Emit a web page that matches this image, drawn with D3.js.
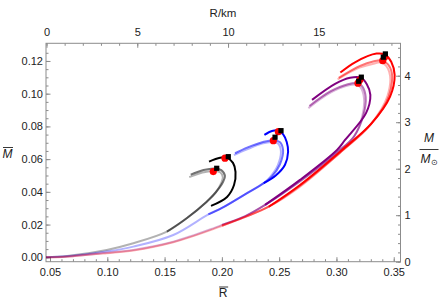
<!DOCTYPE html>
<html>
<head>
<meta charset="utf-8">
<script src="https://cdn.jsdelivr.net/npm/d3@7"></script>
<style>
  body { margin: 0; background: #fff; }
  text { font-family: "Liberation Sans", Arial, sans-serif; fill: #222; }
</style>
</head>
<body>
<script>
// Size of the picture and of the framed plot area
var w = 444, h = 303;
var frameL = 46, frameR = 400.5, frameT = 43.3, frameB = 261.7;

// Tick labels of the four frame sides
var rTicks = [0.05, 0.10, 0.15, 0.20, 0.25, 0.30, 0.35];
var mTicks = [0.00, 0.02, 0.04, 0.06, 0.08, 0.10, 0.12];
var kmTicks = [0, 5, 10, 15];
var solarTicks = [0, 1, 2, 3, 4];

// Mass-radius curves, [R bar, M bar] pairs
// each colour: a light curve from the origin, a mid one, and a dark outer one
var grayLight = [[0.0465,0],[0.065,0.0008],[0.0995,0.0045],[0.1227,0.0086],[0.152,0.0157],[0.1693,0.0239],[0.1868,0.034],[0.1945,0.0395],[0.1995,0.0455],[0.2008,0.049],[0.1985,0.052],[0.192,0.0528],[0.183,0.0518],[0.1715,0.049]];
var grayMid = [[0.152,0.0157],[0.1693,0.0239],[0.1868,0.034],[0.1949,0.0399],[0.201,0.046],[0.2027,0.0497],[0.1995,0.0533],[0.1935,0.0543],[0.184,0.0533],[0.1728,0.0505]];
var blackDark = [[0.1905,0.0314],[0.2045,0.0369],[0.2106,0.0442],[0.2119,0.0522],[0.2097,0.0577],[0.2045,0.0608],[0.1984,0.0609],[0.1888,0.0585]];

var blueLight = [[0.0465,0],[0.065,0.0006],[0.0995,0.0035],[0.1227,0.0065],[0.1576,0.0136],[0.1882,0.0262],[0.2001,0.0302],[0.2202,0.0385],[0.2365,0.0453],[0.242,0.049],[0.2488,0.0562],[0.2515,0.065],[0.249,0.0695],[0.2435,0.0705],[0.235,0.0695],[0.222,0.066],[0.2105,0.0625]];
var blueMid = [[0.1882,0.0262],[0.2001,0.0302],[0.2202,0.0385],[0.2365,0.0453],[0.2438,0.0495],[0.2507,0.0568],[0.2534,0.0656],[0.2505,0.0705],[0.2449,0.0716],[0.236,0.0705],[0.2225,0.0672],[0.2115,0.0636]];
var blueDark = [[0.2365,0.0453],[0.247,0.05],[0.2551,0.0566],[0.2578,0.0645],[0.2566,0.0705],[0.2535,0.0752],[0.2495,0.0774],[0.2438,0.0772],[0.2371,0.0748]];

var purpleLight = [[0.0465,0],[0.065,0.0005],[0.0995,0.0028],[0.1227,0.0045],[0.1576,0.0095],[0.1925,0.0177],[0.2001,0.0198],[0.2205,0.0252],[0.2377,0.032],[0.268,0.0462],[0.3015,0.0645],[0.315,0.0735],[0.3225,0.0862],[0.324,0.0975],[0.321,0.1038],[0.3175,0.1055],[0.309,0.1048],[0.294,0.1003],[0.2755,0.0912]];
var purpleMid = [[0.2001,0.0198],[0.2205,0.0252],[0.2377,0.032],[0.268,0.0465],[0.302,0.065],[0.3155,0.074],[0.3235,0.0868],[0.3255,0.098],[0.3225,0.1045],[0.3188,0.1064],[0.31,0.1058],[0.295,0.1015],[0.2764,0.0925]];
var purpleDark = [[0.2377,0.032],[0.2682,0.0473],[0.3005,0.0656],[0.3075,0.0717],[0.3258,0.0881],[0.3296,0.0993],[0.3265,0.1058],[0.3215,0.1097],[0.3119,0.1097],[0.2988,0.106],[0.2787,0.0962]];

var redLight = [[0.0465,0],[0.065,0.0004],[0.0995,0.0025],[0.1227,0.0042],[0.1576,0.0092],[0.1925,0.0172],[0.2001,0.0193],[0.2205,0.0247],[0.2409,0.0309],[0.268,0.043],[0.3031,0.0638],[0.329,0.0805],[0.3445,0.0985],[0.346,0.1135],[0.3395,0.119],[0.3315,0.1182],[0.3195,0.1158],[0.301,0.1088]];
var redMid = [[0.2001,0.0193],[0.2205,0.0247],[0.2409,0.0309],[0.268,0.0436],[0.304,0.0645],[0.33,0.0812],[0.3458,0.0985],[0.3478,0.1142],[0.3404,0.1202],[0.332,0.1197],[0.3206,0.117],[0.302,0.1097]];
var redDark = [[0.2409,0.0309],[0.2682,0.0442],[0.3049,0.0656],[0.3308,0.082],[0.3468,0.0982],[0.3508,0.1115],[0.3478,0.1195],[0.3427,0.1238],[0.335,0.1245],[0.3162,0.1192],[0.3034,0.1129]];

// maximum-mass markers
var maxCircles = [[0.1925,0.0524],[0.2027,0.0606],[0.2449,0.0713],[0.2493,0.0768],[0.3188,0.1064],[0.3205,0.1085],[0.3404,0.1202],[0.342,0.1225]];
var maxSquares = [[0.1955,0.0544],[0.2056,0.0615],[0.2464,0.0734],[0.2516,0.0774],[0.3194,0.1076],[0.3217,0.1101],[0.3409,0.1223],[0.3427,0.1243]];

// Scales: bottom R bar, left M bar, top R in km, right M in solar masses
var x = d3.scaleLinear().domain([0.0465, 0.3559]).range([frameL, frameR]);
var y = d3.scaleLinear().domain([-0.0027, 0.1308]).range([frameB, frameT]);
var xKm = d3.scaleLinear().domain([0, 19.5]).range([46.5, frameR]);
var ySun = d3.scaleLinear().domain([0, 4.697]).range([frameB, frameT]);

var svg = d3.select("body").append("svg")
    .attr("width", w)
    .attr("height", h);

// frame ticks, all pointing into the plot
var frameColor = "#8c8c8c";
function side(axis, tx, ty, major, minor, fmt, pad) {
  svg.append("g")
     .attr("transform", "translate(" + tx + "," + ty + ")")
     .call(axis.tickValues(minor).tickSize(-2.5).tickFormat(""));
  svg.append("g")
     .attr("transform", "translate(" + tx + "," + ty + ")")
     .call(axis.tickValues(major).tickSize(-4.5).tickPadding(pad).tickFormat(fmt));
}
side(d3.axisBottom(x), 0, frameB, rTicks, d3.range(0.05, 0.356, 0.01), d3.format(".2f"), 7);
side(d3.axisLeft(y), frameL, 0, mTicks, d3.range(0, 0.13, 0.005), d3.format(".2f"), 3);
side(d3.axisTop(xKm), 0, frameT, kmTicks, d3.range(0, 19.5, 1), d3.format("d"), 7);
side(d3.axisRight(ySun), frameR, 0, solarTicks, d3.range(0, 4.61, 0.2), d3.format("d"), 4);

svg.selectAll(".domain").remove();
svg.selectAll(".tick line").attr("stroke", frameColor);
svg.selectAll(".tick text").attr("font-size", "11px").attr("fill", "#222");

svg.append("rect")
   .attr("x", frameL).attr("y", frameT)
   .attr("width", frameR - frameL).attr("height", frameB - frameT)
   .attr("fill", "none")
   .attr("stroke", frameColor);

// curves
var plot = svg.append("g");
plot.append("clipPath").attr("id", "clip")
    .append("rect").attr("x", frameL).attr("y", frameT)
    .attr("width", frameR - frameL).attr("height", frameB - frameT);
plot.attr("clip-path", "url(#clip)");

var line = d3.line()
    .x(function(d) { return x(d[0]); })
    .y(function(d) { return y(d[1]); })
    .curve(d3.curveCatmullRom.alpha(0.5));

var curves = [
  [grayLight, "#000", 0.3], [grayMid, "#000", 0.55], [blackDark, "#000", 1],
  [blueLight, "#0000ff", 0.3], [blueMid, "#0000ff", 0.55], [blueDark, "#0000ff", 1],
  [purpleLight, "#800080", 0.3], [purpleMid, "#800080", 0.55], [purpleDark, "#800080", 1],
  [redLight, "#ff0000", 0.3], [redMid, "#ff0000", 0.55], [redDark, "#ff0000", 1]
];
plot.selectAll("path.curve")
    .data(curves)
    .enter()
    .append("path")
    .attr("class", "curve")
    .attr("d", function(d) { return line(d[0]); })
    .attr("fill", "none")
    .attr("stroke", function(d) { return d[1]; })
    .attr("stroke-opacity", function(d) { return d[2]; })
    .attr("stroke-width", 2);

plot.selectAll("circle")
    .data(maxCircles)
    .enter()
    .append("circle")
    .attr("cx", function(d) { return x(d[0]); })
    .attr("cy", function(d) { return y(d[1]); })
    .attr("r", 3.6)
    .attr("fill", "#ff0000");

plot.selectAll("rect.sq")
    .data(maxSquares)
    .enter()
    .append("rect")
    .attr("class", "sq")
    .attr("x", function(d) { return x(d[0]) - 2.6; })
    .attr("y", function(d) { return y(d[1]) - 2.6; })
    .attr("width", 5.2)
    .attr("height", 5.2)
    .attr("fill", "#000");

// axis titles
var top = svg.append("text")
   .attr("x", 223).attr("y", 16.5)
   .attr("text-anchor", "middle")
   .attr("font-size", "11.5px")
   .text("R/km");

function barred(txt, cx, base, italic) {
  var t = svg.append("text")
     .attr("x", cx).attr("y", base)
     .attr("text-anchor", "middle")
     .attr("font-size", "12px")
     .attr("font-style", italic ? "italic" : "normal")
     .text(txt);
  var b = t.node().getBBox();
  svg.append("line")
     .attr("x1", b.x + 0.5).attr("x2", b.x + b.width + 0.5)
     .attr("y1", base - 10).attr("y2", base - 10)
     .attr("stroke", "#222").attr("stroke-width", 0.9);
}
barred("M", 7.5, 157.5, true);
barred("R", 223, 297, false);

// right side title, M over M sun
svg.append("text")
   .attr("x", 429).attr("y", 142)
   .attr("text-anchor", "middle")
   .attr("font-size", "12px")
   .attr("font-style", "italic")
   .text("M");
svg.append("line")
   .attr("x1", 419.5).attr("x2", 438.5)
   .attr("y1", 149.5).attr("y2", 149.5)
   .attr("stroke", "#222").attr("stroke-width", 0.9);
var sun = svg.append("text")
   .attr("x", 429).attr("y", 163)
   .attr("text-anchor", "middle")
   .attr("font-size", "12px");
sun.append("tspan").attr("font-style", "italic").text("M");
sun.append("tspan").attr("font-size", "8px").attr("dy", 2).text("⊙");
</script>
</body>
</html>
